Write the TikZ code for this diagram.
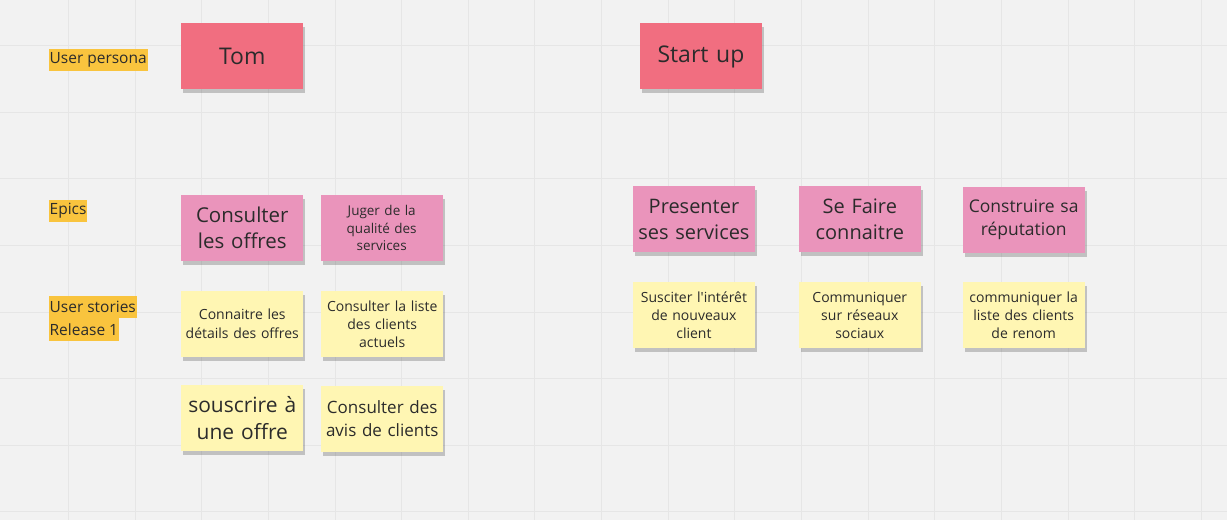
\documentclass[tikz,border=0pt]{standalone}
\usepackage{fontspec}
\setmainfont{Open Sans}
\usetikzlibrary{shadows}
\definecolor{board}{HTML}{F2F2F2}
\definecolor{gridline}{HTML}{E6E6E6}
\definecolor{personared}{HTML}{F16E80}
\definecolor{epicpink}{HTML}{EA94BB}
\definecolor{storyyellow}{HTML}{FFF6B3}
\definecolor{tagorange}{HTML}{F9C43E}
\definecolor{ink}{HTML}{2B2B2B}
\newcommand{\fsz}[1]{\fontsize{#1}{1.3\dimexpr#1pt\relax}\selectfont}
\begin{document}
\begin{tikzpicture}[x=1pt, y=-1pt, text=ink,
  sticky/.style={minimum width=122pt, minimum height=66pt, text width=118pt, align=center, inner sep=0pt,
    drop shadow={shadow xshift=2pt, shadow yshift=-4pt, opacity=.2, fill=black}},
  persona/.style={sticky, fill=personared, font=\fsz{23}},
  epic/.style={sticky, fill=epicpink},
  story/.style={sticky, fill=storyyellow},
  tag/.style={fill=tagorange, anchor=west, inner xsep=1pt, inner ysep=0pt, minimum height=22.5pt, font=\fsz{15.5}}]
% board and grid
\fill[board] (0,0) rectangle (1227,520);
\foreach \gx in {68,134.7,...,1227} \draw[gridline, line width=1pt] (\gx,0) -- (\gx,520);
\foreach \gy in {45,111.7,...,520} \draw[gridline, line width=1pt] (0,\gy) -- (1227,\gy);
% row labels
\node[tag] (persona) at (48,59.5) {User persona};
\node[tag] (epics) at (48,210.5) {Epics};
\node[tag] (stories) at (48,307) {User stories};
\node[tag] (release) at (48,329.5) {Release 1};
% user personas
\node[persona] (tom) at (242,56) {Tom};
\node[persona] (startup) at (701,56) {Start up};
% epics
\node[epic, font=\fsz{20.5}] (offres) at (242,227.5) {Consulter\\les offres};
\node[epic, font=\fsz{13.5}] (qualite) at (381.5,228) {Juger de la\\qualité des\\services};
\node[epic, font=\fsz{20}] (presenter) at (694,219) {Presenter\\ses services};
\node[epic, font=\fsz{20}] (faire) at (860,219) {Se Faire\\connaitre};
\node[epic, font=\fsz{17.5}] (reputation) at (1024,219.5) {Construire sa\\réputation};
% user stories, release 1
\node[story, font=\fsz{14}] (details) at (242,323.5) {Connaitre les\\détails des offres};
\node[story, font=\fsz{14}] (liste) at (382,324) {Consulter la liste\\des clients\\actuels};
\node[story, font=\fsz{21}] (souscrire) at (242,418) {souscrire à\\une offre};
\node[story, font=\fsz{17}] (avis) at (382,418.5) {Consulter des\\avis de clients};
\node[story, font=\fsz{14}] (interet) at (694,315) {Susciter l\textquotesingle intérêt\\de nouveaux\\client};
\node[story, font=\fsz{14}] (reseaux) at (860,315) {Communiquer\\sur réseaux\\sociaux};
\node[story, font=\fsz{14}] (renom) at (1024,315) {communiquer la\\liste des clients\\de renom};
\end{tikzpicture}
\end{document}
